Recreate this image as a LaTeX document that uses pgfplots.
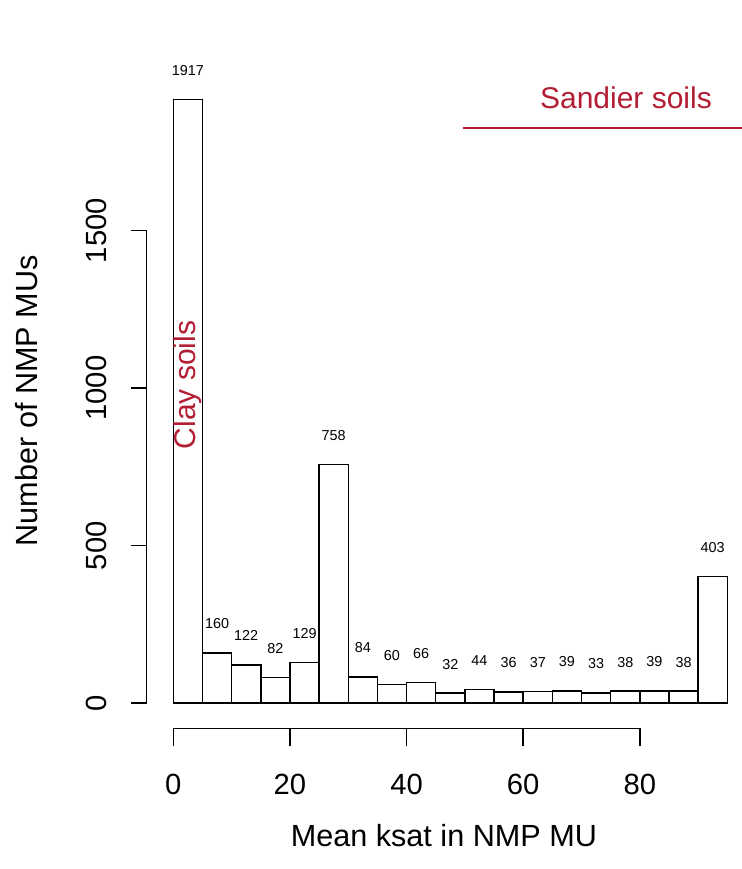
\documentclass[border=0pt]{standalone}
\usepackage{fontspec}
\setmainfont{Liberation Sans}
\usepackage{pgfplots}
\pgfplotsset{compat=1.18}
\definecolor{soilred}{RGB}{178,30,52}
\begin{document}
\begin{tikzpicture}
\begin{axis}[
 scale only axis, width=371pt, height=434.5pt,
 xmin=-29.715, xmax=97.514, ymin=-526.3, ymax=2232.4,
 hide axis, clip=false,
]
\coordinate (bl) at (rel axis cs:0,0);
\coordinate (tr) at (rel axis cs:1,1);
\addplot[ybar interval, fill=white, draw=black, line width=0.75pt] coordinates {
(0,1917) (5,160) (10,122) (15,82) (20,129) (25,758) (30,84) (35,60) (40,66) (45,32)
(50,44) (55,36) (60,37) (65,39) (70,33) (75,38) (80,39) (85,38) (90,403) (95,0)};
\addplot[draw=none, mark=none, nodes near coords, point meta=explicit symbolic,
 every node near coord/.append style={anchor=center, yshift=14.5pt, inner sep=0pt, font=\fontsize{7.2}{8.5}\selectfont}] coordinates {
(2.5,1917)[1917] (7.5,160)[160] (12.5,122)[122] (17.5,82)[82] (22.5,129)[129]
(27.5,758)[758] (32.5,84)[84] (37.5,60)[60] (42.5,66)[66] (47.5,32)[32]
(52.5,44)[44] (57.5,36)[36] (62.5,37)[37] (67.5,39)[39] (72.5,33)[33]
(77.5,38)[38] (82.5,39)[39] (87.5,38)[38] (92.5,403)[403]};
% y axis
\draw[line width=0.75pt] (axis cs:-4.561,0) -- (axis cs:-4.561,1500);
\pgfplotsinvokeforeach{0,500,1000,1500}{
 \draw[line width=0.75pt] (axis cs:-4.561,#1) -- (axis cs:-7.2,#1);
 \node[rotate=90, anchor=base, inner sep=0pt, font=\fontsize{14.6}{17}\selectfont] at (axis cs:-11.37,#1) {#1};
}
% x axis
\draw[line width=0.75pt] (axis cs:0,-79.7) -- (axis cs:80,-79.7);
\pgfplotsinvokeforeach{0,20,40,60,80}{
 \draw[line width=0.75pt] (axis cs:#1,-79.7) -- (axis cs:#1,-135.9);
 \node[anchor=base, inner sep=0pt, font=\fontsize{14.6}{17}\selectfont] at (axis cs:#1,-289.2) {#1};
}
\node[anchor=base, inner sep=0pt, font=\fontsize{15.3}{18}\selectfont] at (axis cs:46.4,-455.6) {Mean ksat in NMP MU};
\node[rotate=90, anchor=base, inner sep=0pt, font=\fontsize{15.3}{18}\selectfont] at (axis cs:-23.2,960) {Number of NMP MUs};
\node[rotate=90, anchor=base, inner sep=0pt, text=soilred, font=\fontsize{15}{18}\selectfont] at (axis cs:3.89,1010) {Clay soils};
\node[anchor=base, inner sep=0pt, text=soilred, font=\fontsize{15}{18}\selectfont] at (axis cs:77.62,1888.6) {Sandier soils};
\draw[soilred, line width=1pt] (axis cs:49.67,1825) -- (axis cs:97.514,1825);
\end{axis}
\pgfresetboundingbox
\path (bl) rectangle (tr);
\end{tikzpicture}
\end{document}
